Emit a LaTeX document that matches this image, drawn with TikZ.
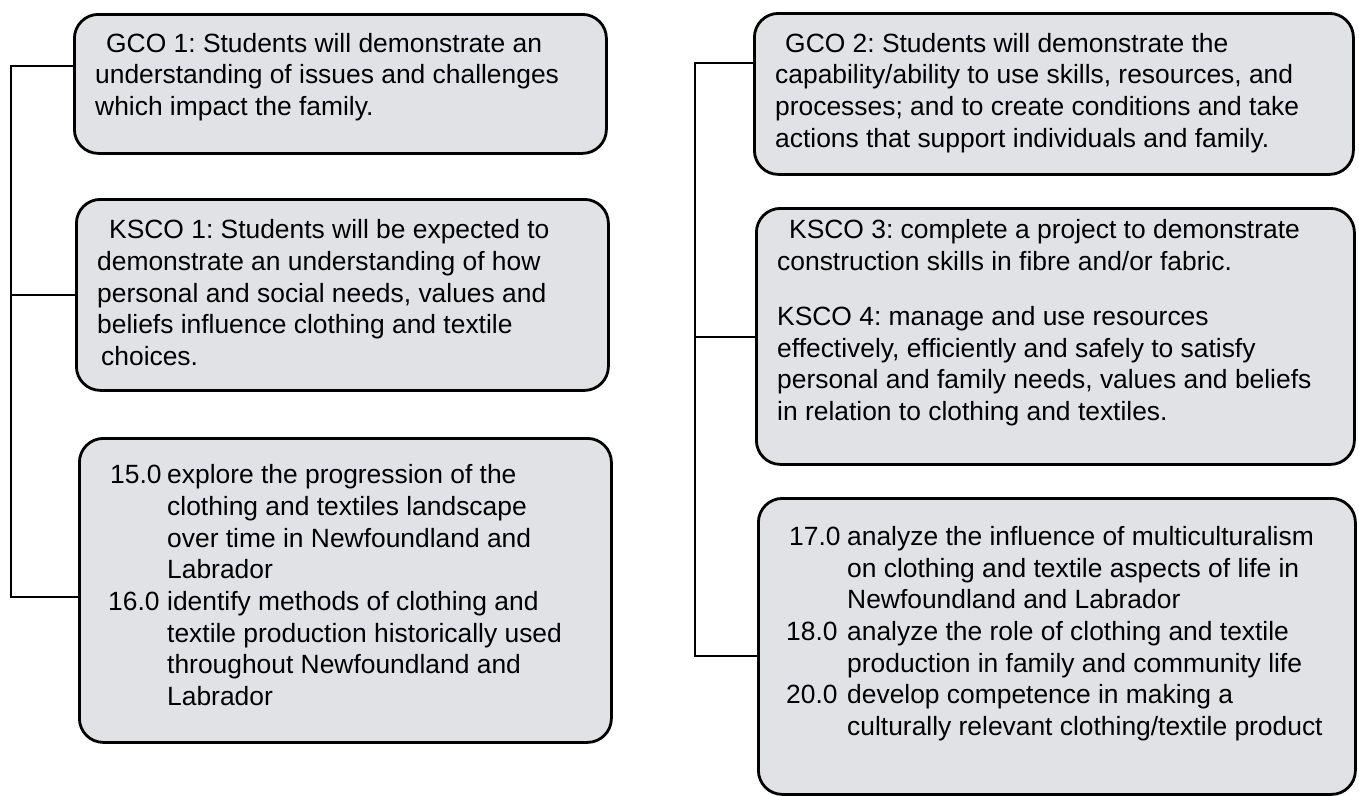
\documentclass[tikz,border=0pt]{standalone}
\usepackage{fontspec}
\setmainfont{Liberation Sans}
\frenchspacing
\definecolor{boxfill}{RGB}{225,226,229}
\tikzset{
  box/.style={draw=black, line width=2.8pt, fill=boxfill, rounded corners=24pt, anchor=north west, inner sep=0pt},
  txt/.style={anchor=base west, inner sep=0pt, font=\fontsize{26.4}{31.6}\selectfont},
  conn/.style={draw=black, line width=2.8pt}
}
\begin{document}
\frenchspacing
\begin{tikzpicture}[x=1pt,y=-1pt]
\useasboundingbox (0,0) rectangle (1359,795);
% boxes
\node[box, minimum width=532pt, minimum height=139pt] (A) at (73,13) {};
\node[box, minimum width=532pt, minimum height=191pt] (B) at (75,198) {};
\node[box, minimum width=532pt, minimum height=304pt] (C) at (78,437) {};
\node[box, minimum width=599pt, minimum height=161pt] (D) at (753,12) {};
\node[box, minimum width=598pt, minimum height=256pt] (E) at (755,207) {};
\node[box, minimum width=597pt, minimum height=296pt] (F) at (757,497) {};
% left connectors
\coordinate (Lt) at (11,66);
\coordinate (Lm) at (11,295);
\coordinate (Lb) at (11,597);
\draw[conn] (A.west |- Lt) -- (Lt) -- (Lb) -- (C.west |- Lb);
\draw[conn] (Lm) -- (B.west |- Lm);
% right connectors
\coordinate (Rt) at (695,63);
\coordinate (Rm) at (695,337);
\coordinate (Rb) at (695,656);
\draw[conn] (D.west |- Rt) -- (Rt) -- (Rb) -- (F.west |- Rb);
\draw[conn] (Rm) -- (E.west |- Rm);
% box A text
\node[txt] (a1) at (106,52) {GCO 1: Students will demonstrate an};
\node[txt] (a2) at (95,83) {understanding of issues and challenges};
\node[txt] (a3) at (95,115) {which impact the family.};
% box B text
\node[txt] (b1) at (109,238) {KSCO 1: Students will be expected to};
\node[txt] (b2) at (97,270) {demonstrate an understanding of how};
\node[txt] (b3) at (97,302) {personal and social needs, values and};
\node[txt] (b4) at (97,333) {beliefs influence clothing and textile};
\node[txt] (b5) at (101,365) {choices.};
% box C text
\node[txt] (c1n) at (110,483) {15.0};
\node[txt] (c1) at (167,483) {explore the progression of the};
\node[txt] (c2) at (167,515) {clothing and textiles landscape};
\node[txt] (c3) at (167,547) {over time in Newfoundland and};
\node[txt] (c4) at (167,578) {Labrador};
\node[txt] (c5n) at (108,610) {16.0};
\node[txt] (c5) at (167,610) {identify methods of clothing and};
\node[txt] (c6) at (167,642) {textile production historically used};
\node[txt] (c7) at (167,673) {throughout Newfoundland and};
\node[txt] (c8) at (167,705) {Labrador};
% box D text
\node[txt] (d1) at (785,52) {GCO 2: Students will demonstrate the};
\node[txt] (d2) at (775,83) {capability/ability to use skills, resources, and};
\node[txt] (d3) at (775,115) {processes; and to create conditions and take};
\node[txt] (d4) at (775,147) {actions that support individuals and family.};
% box E text
\node[txt] (e1) at (789,238) {KSCO 3: complete a project to demonstrate};
\node[txt] (e2) at (777,270) {construction skills in fibre and/or fabric.};
\node[txt] (e3) at (777,325) {KSCO 4: manage and use resources};
\node[txt] (e4) at (777,357) {effectively, efficiently and safely to satisfy};
\node[txt] (e5) at (777,388) {personal and family needs, values and beliefs};
\node[txt] (e6) at (777,420) {in relation to clothing and textiles.};
% box F text
\node[txt] (f1n) at (789,545) {17.0};
\node[txt] (f1) at (847,545) {analyze the influence of multiculturalism};
\node[txt] (f2) at (847,577) {on clothing and textile aspects of life in};
\node[txt] (f3) at (847,608) {Newfoundland and Labrador};
\node[txt] (f4n) at (786,640) {18.0};
\node[txt] (f4) at (847,640) {analyze the role of clothing and textile};
\node[txt] (f5) at (847,672) {production in family and community life};
\node[txt] (f6n) at (786,703) {20.0};
\node[txt] (f6) at (847,703) {develop competence in making a};
\node[txt] (f7) at (847,735) {culturally relevant clothing/textile product};
\end{tikzpicture}
\end{document}
